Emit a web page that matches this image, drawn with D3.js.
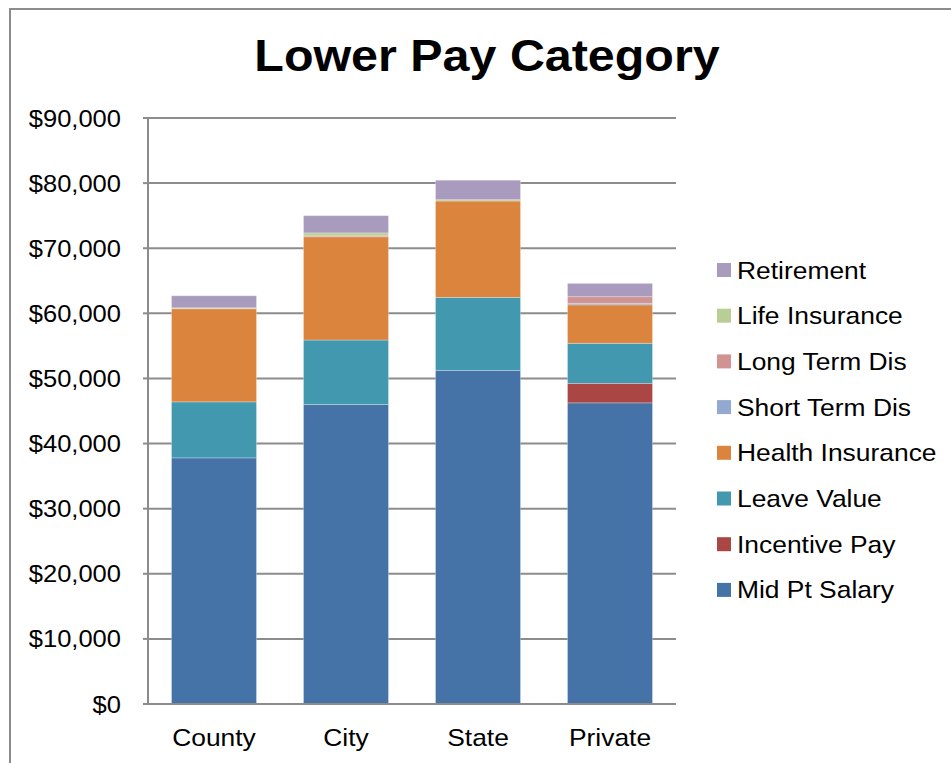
<!DOCTYPE html>
<html>
<head>
<meta charset="utf-8">
<script src="https://cdn.jsdelivr.net/npm/d3@7"></script>
<style>
  body { margin: 0; background: #fff; }
  text { font-family: "Liberation Sans", Arial, sans-serif; fill: #000; }
</style>
</head>
<body>
<script>
// chart values
const categories = ["County", "City", "State", "Private"];
const midPtSalary = [37800, 46000, 51250, 46250];
const incentivePay = [0, 0, 0, 3000];
const leaveValue = [8600, 9900, 11200, 6150];
const healthInsurance = [14300, 15850, 14800, 5900];
const shortTermDis = [0, 0, 0, 250];
const longTermDis = [0, 150, 0, 1000];
const lifeInsurance = [150, 450, 200, 0];
const retirement = [1850, 2650, 3000, 2050];
const yTicks = [0, 10000, 20000, 30000, 40000, 50000, 60000, 70000, 80000, 90000];

const seriesNames = ["Mid Pt Salary", "Incentive Pay", "Leave Value", "Health Insurance",
  "Short Term Dis", "Long Term Dis", "Life Insurance", "Retirement"];
const seriesValues = [midPtSalary, incentivePay, leaveValue, healthInsurance,
  shortTermDis, longTermDis, lifeInsurance, retirement];
const colors = ["#4572A7", "#AA4643", "#4198AF", "#DB843D", "#93A9CF", "#D19392", "#B9CD96", "#A99BBD"];

const rows = categories.map((c, i) => {
  const r = { cat: c };
  seriesNames.forEach((s, j) => r[s] = seriesValues[j][i]);
  return r;
});

const W = 951, H = 763;
const stretch = 1.1;
const svg = d3.select("body").append("svg").attr("width", W).attr("height", H);

// outer frame
svg.append("rect").attr("x", 10).attr("y", 9).attr("width", 960).attr("height", 780)
  .attr("fill", "#fff").attr("stroke", "#8c8c8c").attr("stroke-width", 2);

const x = d3.scaleBand().domain(categories).range([148, 676]).paddingInner(0.356).paddingOuter(0.178);
const y = d3.scaleLinear().domain([0, 90000]).range([704, 118]);

// stretched text helper
function label(g, px, py, txt, size, anchor, weight) {
  g.append("g").attr("transform", `translate(${px},${py}) scale(${stretch},1)`)
    .append("text").attr("text-anchor", anchor).style("font-size", size + "px")
    .style("font-weight", weight || "normal").text(txt);
}

label(svg, 487, 71, "Lower Pay Category", 44, "middle", "bold");

// gridlines
svg.append("g").selectAll("line").data(yTicks.slice(1)).join("line")
  .attr("x1", 148).attr("x2", 676).attr("y1", d => y(d)).attr("y2", d => y(d))
  .attr("stroke", "#8c8c8c").attr("stroke-width", 2);

// bars
const stack = d3.stack().keys(seriesNames)(rows);
svg.append("g").selectAll("g").data(stack).join("g")
  .attr("fill", (d, i) => colors[i])
  .selectAll("rect").data(d => d).join("rect")
  .attr("x", d => x(d.data.cat)).attr("width", x.bandwidth())
  .attr("y", d => y(d[1])).attr("height", d => y(d[0]) - y(d[1]))
  .attr("stroke", "rgba(255,255,255,0.35)").attr("stroke-width", d => (d[1] - d[0]) > 0 ? 0.8 : 0);

// axes
const axisG = svg.append("g");
axisG.append("line").attr("x1", 148).attr("x2", 148).attr("y1", y(90000) - 1).attr("y2", y(0) + 1)
  .attr("stroke", "#8c8c8c").attr("stroke-width", 2);
axisG.append("line").attr("x1", 147).attr("x2", 676).attr("y1", y(0)).attr("y2", y(0))
  .attr("stroke", "#8c8c8c").attr("stroke-width", 2);
axisG.selectAll(".tk").data(yTicks).join("line").attr("class", "tk")
  .attr("x1", 143).attr("x2", 148).attr("y1", d => y(d)).attr("y2", d => y(d))
  .attr("stroke", "#8c8c8c").attr("stroke-width", 2);

const fmt = d => "$" + d3.format(",")(d);
yTicks.forEach(t => label(svg, 121, y(t) + 8.5, fmt(t), 23.2, "end"));
categories.forEach(c => label(svg, x(c) + x.bandwidth() / 2, 746, c, 24, "middle"));

// legend
const legendOrder = seriesNames.map((s, i) => i).reverse();
legendOrder.forEach((si, k) => {
  const cy = 270 + k * 45.7;
  svg.append("rect").attr("x", 717).attr("y", cy - 7).attr("width", 14).attr("height", 14)
    .attr("fill", colors[si]);
  label(svg, 737, cy + 8.5, seriesNames[si], 24, "start");
});
</script>
</body>
</html>
